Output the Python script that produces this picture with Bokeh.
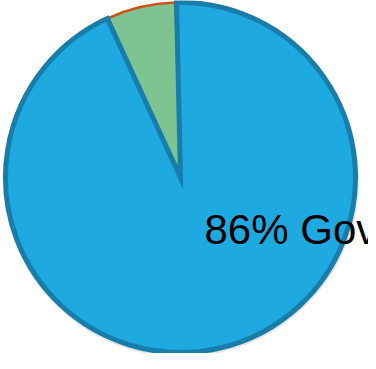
import math
from bokeh.plotting import figure
from bokeh.models import Range1d
from bokeh.core.properties import value
from bokeh.embed import file_html
from bokeh.resources import INLINE

# Data (shares, percent of full circle)
categories = ["Government", "Other", "Remainder"]
shares = [93.5, 6.4, 0.1]
fill_colors = ["#1FA9E1", "#7DC492", "#D0501A"]
label_texts = ["86% Government"]

W, H = 368, 353
p = figure(width=W, height=H, output_backend="svg", toolbar_location=None,
           x_range=Range1d(0, W), y_range=Range1d(0, H),
           x_axis_location=None, y_axis_location=None, min_border=0)
p.outline_line_color = None
p.grid.visible = False
p.background_fill_color = "white"

cx, cy, r = 180, 176, 175
start0 = math.radians(91.3)

starts, ends = [], []
a = start0
for s in shares:
    span = 2 * math.pi * s / 100.0
    starts.append(a)
    ends.append(a - span)
    a -= span

p.circle(x=[cx + 0.5], y=[cy - 1.5], radius=r + 3, fill_color="#bbbbbb",
         fill_alpha=0.4, line_color=None)

p.wedge(x=[cx], y=[cy], radius=r, start_angle=[ends[1]], end_angle=[starts[1]],
        direction="anticlock", fill_color=fill_colors[1], line_color=fill_colors[2], line_width=2.5)
p.wedge(x=[cx], y=[cy], radius=r, start_angle=[ends[0]], end_angle=[starts[0]],
        direction="anticlock", fill_color=fill_colors[0], line_color="#187DA8", line_width=5,
        line_join="miter")

p.text(x=[204], y=[124], text=label_texts, text_font=value("Liberation Sans"),
       text_font_size="42px", text_color="black", text_baseline="alphabetic")

open("out.html", "w").write(file_html(p, INLINE))
